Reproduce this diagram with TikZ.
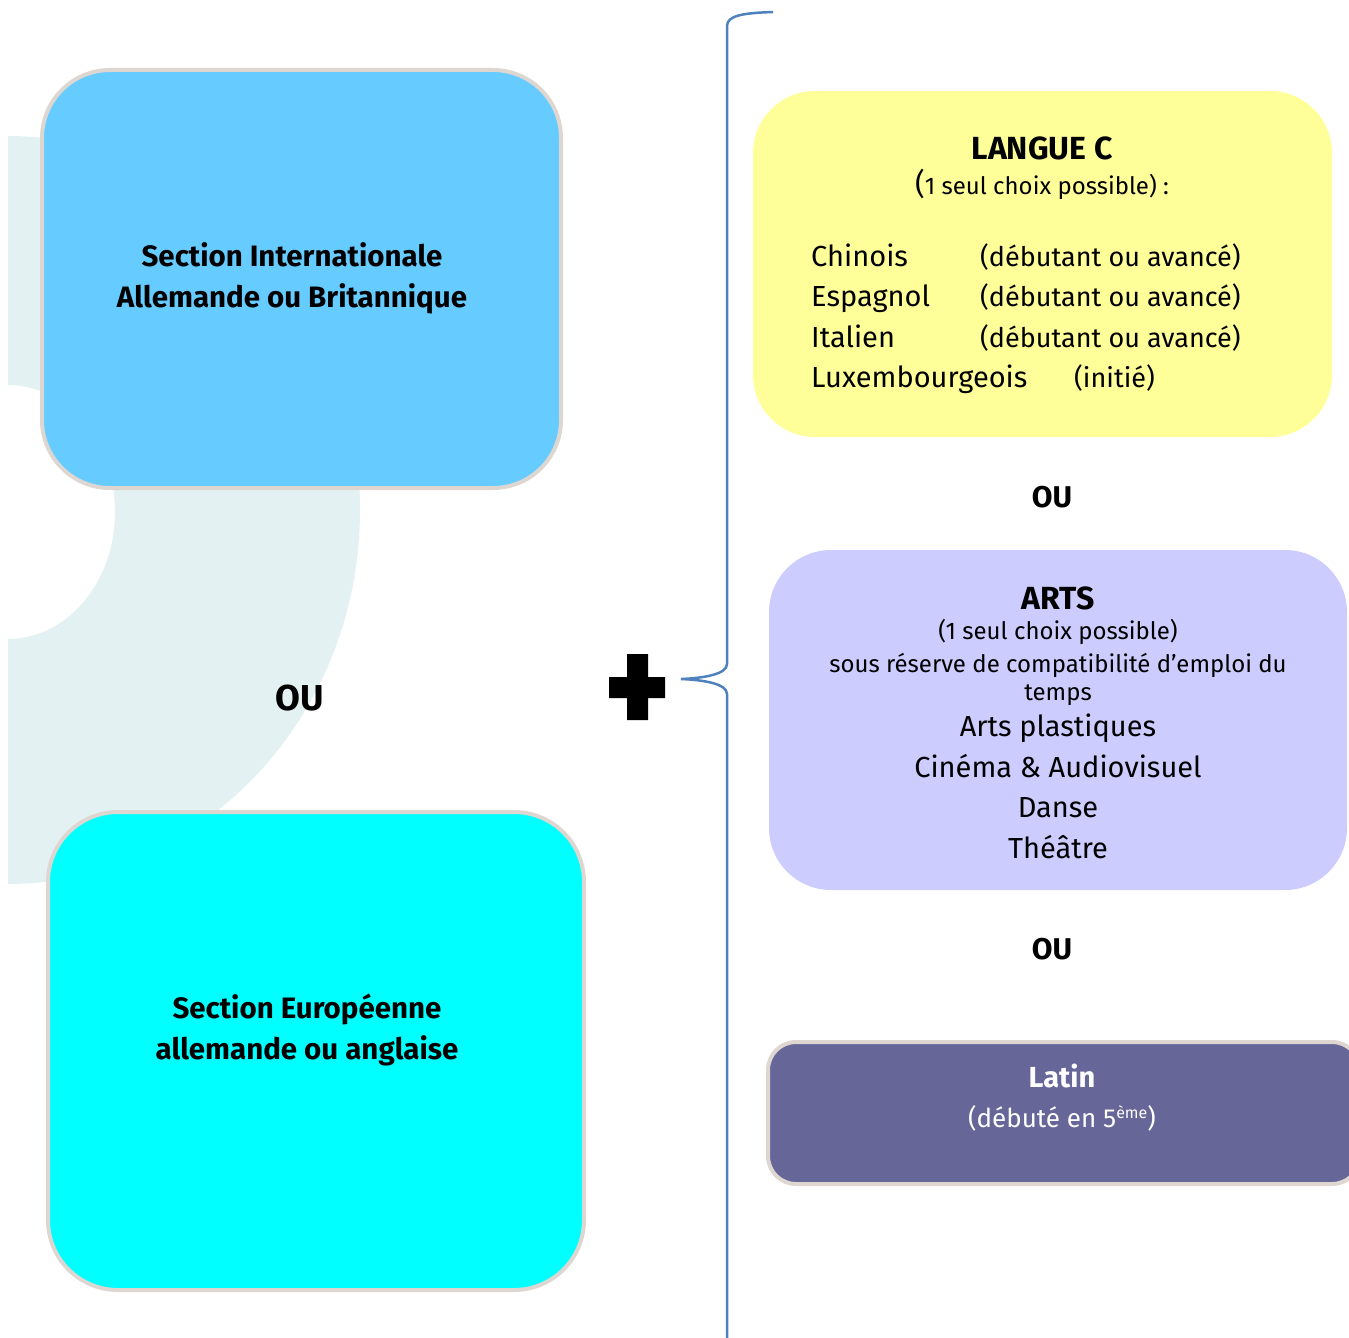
\documentclass[tikz,border=0pt]{standalone}
\usepackage{fontspec}
\setmainfont{Fira Sans}
\definecolor{bgc}{HTML}{E3F1F2}
\definecolor{blueA}{HTML}{66CCFF}
\definecolor{cyanA}{HTML}{00FFFF}
\definecolor{borderc}{HTML}{DDD6D1}
\definecolor{yellowA}{HTML}{FFFF99}
\definecolor{lavA}{HTML}{CCCCFF}
\definecolor{latinA}{HTML}{666699}
\definecolor{bracec}{HTML}{4F81BD}
\begin{document}
\begin{tikzpicture}[x=1pt,y=-1pt,
  framedbox/.style={draw=borderc, line width=4pt, inner sep=0pt},
  plainbox/.style={draw=none, inner sep=0pt},
  bigbold/.style={inner sep=0pt, font=\fontsize{29.5}{35}\selectfont\bfseries},
  oubold/.style={inner sep=0pt, font=\fontsize{36}{42}\selectfont\bfseries},
  headbold/.style={inner sep=0pt, font=\fontsize{32}{38}\selectfont\bfseries},
  ourbold/.style={inner sep=0pt, font=\fontsize{30}{36}\selectfont\bfseries},
  smalltxt/.style={inner sep=0pt, font=\fontsize{24}{29}\selectfont},
  listtxt/.style={inner sep=0pt, font=\fontsize{29}{35}\selectfont},
  listtxtb/.style={inner sep=0pt, font=\fontsize{27}{33}\selectfont},
  bracestyle/.style={draw=bracec, line width=2.5pt}]
\clip (0,0) rectangle (1349,1338);
% background crescent
\begin{scope}
\clip (8,0) rectangle (420,1338);
\fill[bgc, even odd rule] (8,510) ellipse [x radius=352pt, y radius=374pt]
  (8,512) ellipse [x radius=107pt, y radius=127pt];
\end{scope}
% left boxes
\node[framedbox, fill=blueA, rounded corners=68pt, minimum width=519pt, minimum height=418pt] (sib) at (301.5,279) {};
\node[bigbold, anchor=base] (sib1) at (292,266) {Section Internationale};
\node[bigbold, anchor=base] (sib2) at (292,307) {Allemande ou Britannique};
\node[oubold, anchor=base] (ouL) at (300,710) {OU};
\node[framedbox, fill=cyanA, rounded corners=70pt, minimum width=536pt, minimum height=478pt] (seb) at (316,1051) {};
\node[bigbold, anchor=base] (seb1) at (307,1018) {Section Européenne};
\node[bigbold, anchor=base] (seb2) at (307,1059) {allemande ou anglaise};
% plus
\fill[black] (627,654) -- (648,654) -- (648,677) -- (665,677) -- (665,698) -- (648,698) -- (648,720) -- (627,720) -- (627,698) -- (609,698) -- (609,677) -- (627,677) -- cycle;
% brace
\coordinate (btop) at (773,12);
\coordinate (btip) at (681,679);
\coordinate (bbot) at (727,1345);
\draw[bracestyle] (btop) .. controls (745,13) and (727,15) .. (727,26) -- (727,664)
  .. controls (727,674) and (705,678) .. (btip)
  .. controls (705,680) and (727,684) .. (727,694) -- (bbot);
% langue C
\node[plainbox, fill=yellowA, rounded corners=62pt, minimum width=579pt, minimum height=346pt] (lc) at (1042.5,264) {};
\node[headbold, anchor=base] (lct) at (1042,159) {LANGUE C};
\node[smalltxt, anchor=base] (lcs) at (1042,194) {{\fontsize{30}{30}\selectfont(}1 seul choix possible) :};
\node[listtxt, anchor=base west] (l1a) at (811,266) {Chinois};
\node[listtxtb, anchor=base west] (l1b) at (980,266) {(débutant ou avancé)};
\node[listtxt, anchor=base west] (l2a) at (811,306) {Espagnol};
\node[listtxtb, anchor=base west] (l2b) at (980,306) {(débutant ou avancé)};
\node[listtxt, anchor=base west] (l3a) at (811,347) {Italien};
\node[listtxtb, anchor=base west] (l3b) at (980,347) {(débutant ou avancé)};
\node[listtxt, anchor=base west] (l4a) at (811,387) {Luxembourgeois};
\node[listtxtb, anchor=base west] (l4b) at (1074,387) {(initié)};
\node[ourbold, anchor=base] (ou1) at (1052,507) {OU};
% arts
\node[plainbox, fill=lavA, rounded corners=62pt, minimum width=578pt, minimum height=340pt] (arts) at (1058,720) {};
\node[headbold, anchor=base] (artst) at (1058,609) {ARTS};
\node[smalltxt, anchor=base] (arts1) at (1058,639) {(1 seul choix possible)};
\node[smalltxt, anchor=base] (arts2) at (1058,672) {sous réserve de compatibilité d’emploi du};
\node[smalltxt, anchor=base] (arts3) at (1058,700) {temps};
\node[listtxt, anchor=base] (arts4) at (1058,736) {Arts plastiques};
\node[listtxt, anchor=base] (arts5) at (1058,777) {Cinéma \& Audiovisuel};
\node[listtxt, anchor=base] (arts6) at (1058,817) {Danse};
\node[listtxt, anchor=base] (arts7) at (1058,858) {Théâtre};
\node[ourbold, anchor=base] (ou2) at (1052,959) {OU};
% latin
\node[framedbox, fill=latinA, rounded corners=28pt, minimum width=592pt, minimum height=142pt] (lat) at (1064,1113) {};
\node[inner sep=0pt, anchor=base, text=white, font=\fontsize{29}{35}\selectfont\bfseries] (latt) at (1062,1087) {Latin};
\node[inner sep=0pt, anchor=base, text=white, font=\fontsize{26}{31}\selectfont] (lats) at (1062,1127) {(débuté en 5{\fontsize{16}{16}\selectfont\raisebox{9pt}{ème}})};
\end{tikzpicture}
\end{document}
